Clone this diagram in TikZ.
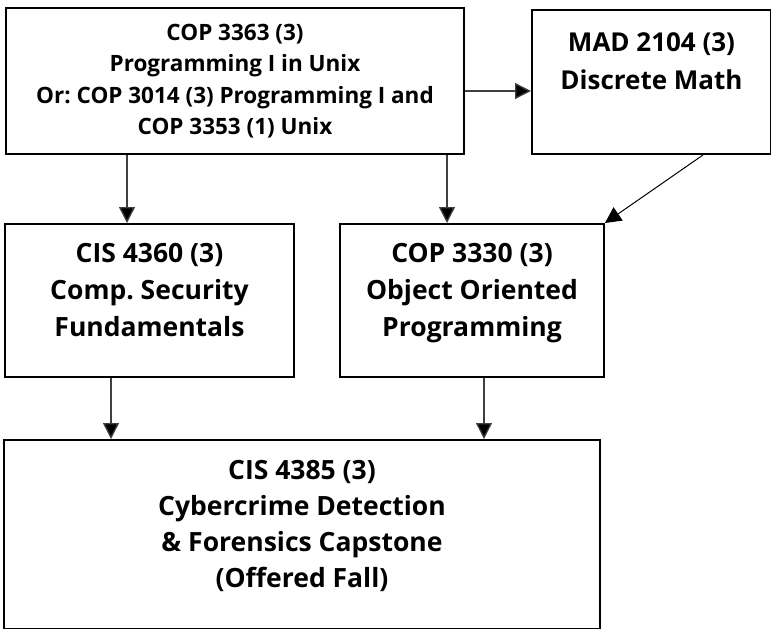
\documentclass[tikz,border=0pt]{standalone}
\usepackage{fontspec}
\setmainfont{Open Sans}
\usetikzlibrary{arrows.meta}
\frenchspacing
\newcommand{\toptext}[5]{\begin{minipage}[c][#2][t]{#1}\centering\fontsize{#3}{#4}\selectfont\bfseries #5\end{minipage}}
\begin{document}
\begin{tikzpicture}[x=1pt,y=-1pt,
  box/.style={draw=black, line width=2pt, inner sep=0pt, anchor=north west},
  arr/.style={line width=1.3pt, draw=black!75, -{Triangle[width=16pt,length=16pt,fill=black]}},
  arrd/.style={line width=1pt, draw=black, -{Triangle[width=16pt,length=16pt,fill=black]}}]
\useasboundingbox (0,0) rectangle (771,629);
\node[box] (top) at (5,7) {\begin{minipage}[c][146pt][c]{458pt}\centering\fontsize{22.5pt}{31.5pt}\selectfont\bfseries\frenchspacing COP 3363 (3)\\Programming I in Unix\\Or: COP 3014 (3) Programming I and\\COP 3353 (1) Unix\end{minipage}};
\node[box] (mad) at (531,9) {\toptext{239pt}{144pt}{26pt}{38pt}{\rule{0pt}{41pt}MAD 2104 (3)\\Discrete Math}};
\node[box] (cis) at (4,223) {\toptext{289pt}{153pt}{26.5pt}{37pt}{\rule{0pt}{38.5pt}CIS 4360 (3)\\Comp. Security\\Fundamentals}};
\node[box] (cop) at (339,223) {\toptext{264pt}{153pt}{26.5pt}{37pt}{\rule{0pt}{38.5pt}COP 3330 (3)\\Object Oriented\\Programming}};
\node[box] (bot) at (3,439) {\toptext{596pt}{189pt}{26.5pt}{36pt}{\rule{0pt}{39.5pt}CIS 4385 (3)\\Cybercrime Detection\\\& Forensics Capstone\\(Offered Fall)}};
\draw[arr] (top.east |- 0,91) -- (mad.west |- 0,91);
\draw[arr] (top.south -| 127,0) -- (cis.north -| 127,0);
\draw[arr] (top.south -| 447,0) -- (cop.north -| 447,0);
\draw[arrd] (mad.south -| 703,0) -- (cop.north east);
\draw[arr] (cis.south -| 111,0) -- (bot.north -| 111,0);
\draw[arr] (cop.south -| 484,0) -- (bot.north -| 484,0);
\end{tikzpicture}
\end{document}
